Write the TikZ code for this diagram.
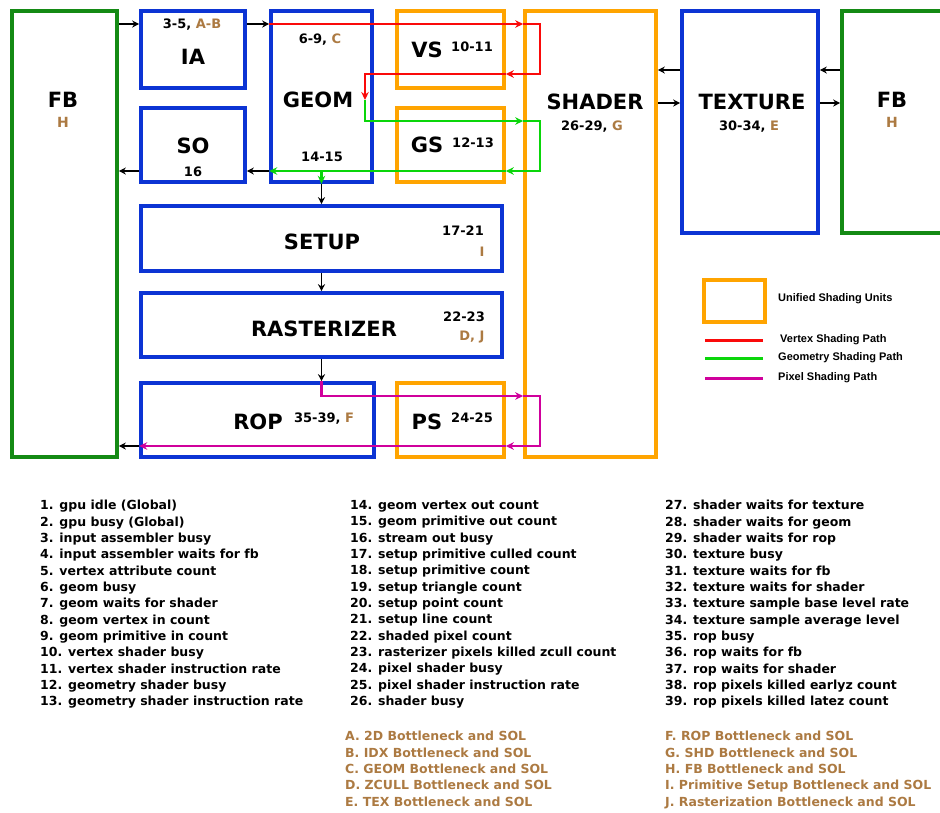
\documentclass[tikz,border=0pt]{standalone}
\usepackage{fontspec}
\setmainfont{DejaVu Sans}
\newfontfamily\legendfont{Liberation Sans}
\usepackage{xcolor}
\usetikzlibrary{arrows.meta}

\definecolor{unitblue}{RGB}{12,52,212}
\definecolor{fbgreen}{RGB}{20,138,20}
\definecolor{shdorange}{RGB}{255,164,0}
\definecolor{brn}{RGB}{172,122,66}
\definecolor{vtxred}{RGB}{250,10,10}
\definecolor{geogreen}{RGB}{10,214,10}
\definecolor{pixmag}{RGB}{208,0,156}

\tikzset{
  fixbox/.style={draw=unitblue, line width=3.6pt, inner sep=0pt},
  fbbox/.style={draw=fbgreen, line width=3.6pt, inner sep=0pt},
  shdbox/.style={draw=shdorange, line width=3.6pt, inner sep=0pt},
  bigtxt/.style={font=\fontsize{21}{25}\selectfont\bfseries, inner sep=0pt},
  numtxt/.style={font=\fontsize{13}{15}\selectfont\bfseries, inner sep=0pt},
  listtxt/.style={font=\fontsize{12.5}{16.35}\selectfont\bfseries, align=left, inner sep=0pt, anchor=north west},
  lgdtxt/.style={font=\legendfont\fontsize{11}{13}\selectfont\bfseries, inner sep=0pt, anchor=west},
  arr/.style={line width=1.9pt, -{Stealth[length=7pt,width=7pt]}},
  arrowed/.style={-{Stealth[length=8pt,width=7.5pt]}},
  vpath/.style={draw=vtxred, line width=2.3pt},
  gpath/.style={draw=geogreen, line width=2.3pt},
  ppath/.style={draw=pixmag, line width=2.3pt}
}

\begin{document}
\begin{tikzpicture}[x=1pt,y=-1pt]

\useasboundingbox (0,0) rectangle (940,812);

% Pipeline blocks
\node[fbbox, minimum width=105pt, minimum height=446pt] (fbL) at (64.5,234) {};
\node[fixbox, minimum width=104pt, minimum height=77pt] (ia) at (193,49.5) {};
\node[fixbox, minimum width=104pt, minimum height=74pt] (so) at (193,145) {};
\node[fixbox, minimum width=101pt, minimum height=171pt] (geom) at (321.5,96.5) {};
\node[shdbox, minimum width=107pt, minimum height=77pt] (vs) at (450.5,49.5) {};
\node[shdbox, minimum width=107pt, minimum height=74pt] (gs) at (450.5,145) {};
\node[shdbox, minimum width=131pt, minimum height=446pt] (shader) at (590.5,234) {};
\node[fixbox, minimum width=136pt, minimum height=222pt] (texture) at (750,122) {};
\node[fbbox, minimum width=123pt, minimum height=222pt] (fbR) at (903.5,122) {};
\node[fixbox, minimum width=361pt, minimum height=65pt] (setup) at (321.5,238.5) {};
\node[fixbox, minimum width=361pt, minimum height=64pt] (raster) at (321.5,325) {};
\node[fixbox, minimum width=233pt, minimum height=74pt] (rop) at (257.5,420) {};
\node[shdbox, minimum width=107pt, minimum height=74pt] (ps) at (450.5,420) {};

% Block labels
\node[bigtxt] (fbLName) at (63,100) {FB};
\node[bigtxt, text=brn, font=\fontsize{14}{16}\selectfont\bfseries] (fbLLetter) at (63,122) {H};
\node[numtxt] (iaNum) at (192,25) {3-5, \textcolor{brn}{A-B}};
\node[bigtxt] (iaName) at (193,57) {IA};
\node[bigtxt] (soName) at (193,146) {SO};
\node[numtxt] (soNum) at (193,172) {16};
\node[numtxt] (geomNum) at (320,40) {6-9, \textcolor{brn}{C}};
\node[bigtxt] (geomName) at (318,100) {GEOM};
\node[numtxt] (geomOut) at (322,157) {14-15};
\node[bigtxt] (vsName) at (427,50) {VS};
\node[numtxt] (vsNum) at (472,47) {10-11};
\node[bigtxt] (gsName) at (427,145) {GS};
\node[numtxt] (gsNum) at (473,143) {12-13};
\node[bigtxt] (shaderName) at (595,102) {SHADER};
\node[numtxt] (shaderNum) at (592,127) {26-29, \textcolor{brn}{G}};
\node[bigtxt] (textureName) at (752,102) {TEXTURE};
\node[numtxt] (textureNum) at (749,127) {30-34, \textcolor{brn}{E}};
\node[bigtxt] (fbRName) at (892,100) {FB};
\node[bigtxt, text=brn, font=\fontsize{14}{16}\selectfont\bfseries] (fbRLetter) at (892,122) {H};
\node[bigtxt] (setupName) at (322,242) {SETUP};
\node[numtxt] (setupNum) at (463,231) {17-21};
\node[numtxt, text=brn] (setupLetter) at (482,252) {I};
\node[bigtxt] (rasterName) at (324,329) {RASTERIZER};
\node[numtxt] (rasterNum) at (464,317) {22-23};
\node[numtxt, text=brn] (rasterLetter) at (472,337) {D, J};
\node[bigtxt] (ropName) at (258,422) {ROP};
\node[numtxt] (ropNum) at (324,419) {35-39, \textcolor{brn}{F}};
\node[bigtxt] (psName) at (427,422) {PS};
\node[numtxt] (psNum) at (472,418) {24-25};

% Rails for the connectors
\coordinate (rowTop) at (0,24);
\coordinate (rowTexIn) at (0,70);
\coordinate (rowVsBack) at (0,74);
\coordinate (rowGeomIn) at (0,100);
\coordinate (rowTexOut) at (0,103);
\coordinate (rowGs) at (0,121);
\coordinate (rowBack) at (0,171);
\coordinate (rowPs) at (0,396);
\coordinate (rowOut) at (0,446);
\coordinate (loopX) at (540,0);
\coordinate (turnX) at (365,0);

% Black data flow
\draw[arr] (fbL.east |- rowTop) -- (ia.west |- rowTop);
\draw[arr] (ia.east |- rowTop) -- (geom.west |- rowTop);
\draw[arr] (geom.west |- rowBack) -- (so.east |- rowBack);
\draw[arr] (so.west |- rowBack) -- (fbL.east |- rowBack);
\draw[arr] (geom.south) -- (setup.north);
\draw[arr] (setup.south) -- (raster.north);
\draw[arr] (raster.south) -- (raster.south |- rop.north);
\draw[arr] (rop.west |- rowOut) -- (fbL.east |- rowOut);
\draw[arr] (texture.west |- rowTexIn) -- (shader.east |- rowTexIn);
\draw[arr] (shader.east |- rowTexOut) -- (texture.west |- rowTexOut);
\draw[arr] (fbR.west |- rowTexIn) -- (texture.east |- rowTexIn);
\draw[arr] (texture.east |- rowTexOut) -- (fbR.west |- rowTexOut);

% Vertex shading path
\draw[vpath, arrowed] (geom.west |- rowTop) -- (shader.west |- rowTop);
\draw[vpath, arrowed] (shader.west |- rowTop) -- (loopX |- rowTop) -- (loopX |- rowVsBack) -- (vs.east |- rowVsBack);
\draw[vpath, arrowed] (vs.east |- rowVsBack) -- (turnX |- rowVsBack) -- (turnX |- rowGeomIn);

% Geometry shading path
\draw[gpath, arrowed] (turnX |- rowGeomIn) -- (turnX |- rowGs) -- (shader.west |- rowGs);
\draw[gpath, arrowed] (shader.west |- rowGs) -- (loopX |- rowGs) -- (loopX |- rowBack) -- (gs.east |- rowBack);
\draw[gpath, arrowed] (gs.east |- rowBack) -- (geom.west |- rowBack);
\draw[gpath, arrowed] (geom.south |- rowBack) -- (geom.south);

% Pixel shading path
\draw[ppath, arrowed] (raster.south |- rop.north) -- (raster.south |- rowPs) -- (shader.west |- rowPs);
\draw[ppath, arrowed] (shader.west |- rowPs) -- (loopX |- rowPs) -- (loopX |- rowOut) -- (ps.east |- rowOut);
\draw[ppath, arrowed] (ps.east |- rowOut) -- (rop.west |- rowOut);

% Legend
\node[shdbox, line width=3.4pt, minimum width=61pt, minimum height=42pt] (lgBox) at (734.5,301) {};
\node[lgdtxt] (lgBoxTxt) at (778,299) {Unified Shading Units};
\coordinate (lgVtxA) at (705,340);
\coordinate (lgVtxB) at (763,340);
\coordinate (lgGeoA) at (705,358);
\coordinate (lgGeoB) at (763,358);
\coordinate (lgPixA) at (705,378);
\coordinate (lgPixB) at (763,378);
\draw[vpath, line width=3pt] (lgVtxA) -- (lgVtxB);
\draw[gpath, line width=3pt] (lgGeoA) -- (lgGeoB);
\draw[ppath, line width=3pt] (lgPixA) -- (lgPixB);
\node[lgdtxt] (lgVtxTxt) at (780,340) {Vertex Shading Path};
\node[lgdtxt] (lgGeoTxt) at (778,358) {Geometry Shading Path};
\node[lgdtxt] (lgPixTxt) at (778,378) {Pixel Shading Path};

% Counter lists
\node[listtxt] (listA) at (40,500) {1. gpu idle (Global)\\2. gpu busy (Global)\\3. input assembler busy\\4. input assembler waits for fb\\5. vertex attribute count\\6. geom busy\\7. geom waits for shader\\8. geom vertex in count\\9. geom primitive in count\\10. vertex shader busy\\11. vertex shader instruction rate\\12. geometry shader busy\\13. geometry shader instruction rate};
\node[listtxt] (listB) at (350,500) {14. geom vertex out count\\15. geom primitive out count\\16. stream out busy\\17. setup primitive culled count\\18. setup primitive count\\19. setup triangle count\\20. setup point count\\21. setup line count\\22. shaded pixel count\\23. rasterizer pixels killed zcull count\\24. pixel shader busy\\25. pixel shader instruction rate\\26. shader busy};
\node[listtxt] (listC) at (665,500) {27. shader waits for texture\\28. shader waits for geom\\29. shader waits for rop\\30. texture busy\\31. texture waits for fb\\32. texture waits for shader\\33. texture sample base level rate\\34. texture sample average level\\35. rop busy\\36. rop waits for fb\\37. rop waits for shader\\38. rop pixels killed earlyz count\\39. rop pixels killed latez count};

% Bottleneck letters
\node[listtxt, text=brn] (lettersA) at (345,731) {A. 2D Bottleneck and SOL\\B. IDX Bottleneck and SOL\\C. GEOM Bottleneck and SOL\\D. ZCULL Bottleneck and SOL\\E. TEX Bottleneck and SOL};
\node[listtxt, text=brn] (lettersF) at (665,731) {F. ROP Bottleneck and SOL\\G. SHD Bottleneck and SOL\\H. FB Bottleneck and SOL\\I. Primitive Setup Bottleneck and SOL\\J. Rasterization Bottleneck and SOL};

\end{tikzpicture}
\end{document}
